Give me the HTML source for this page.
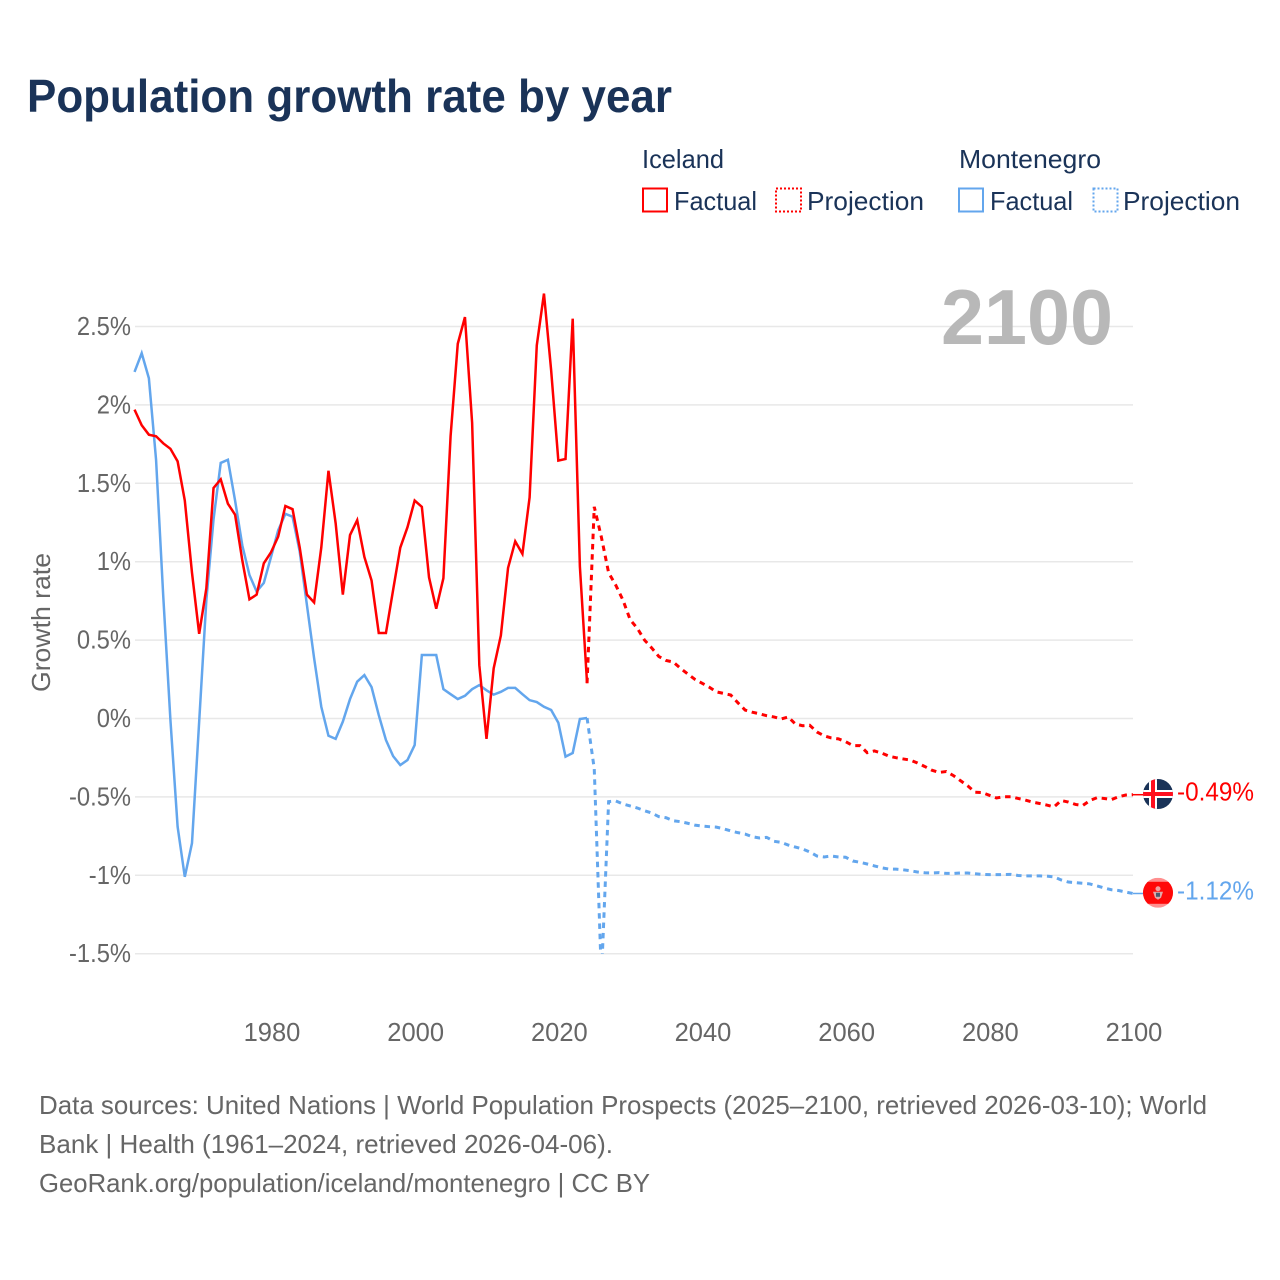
<!DOCTYPE html>
<html lang="en">
<head>
<meta charset="utf-8">
<title>Population growth rate by year</title>
<style>
  html, body { margin: 0; padding: 0; background: #fff; }
  svg { display: block; font-family: "Liberation Sans", sans-serif; }
</style>
</head>
<body>
<svg id="chart" width="1280" height="1280" viewBox="0 0 1280 1280" xmlns="http://www.w3.org/2000/svg">
  <defs>
    <clipPath id="plot-clip"><rect x="130" y="260" width="1010" height="694"></rect></clipPath>
    <clipPath id="flag-clip-is"><circle cx="0" cy="0" r="15"></circle></clipPath>
    <clipPath id="flag-clip-me"><circle cx="0" cy="0" r="15"></circle></clipPath>
  </defs>

  <text x="27" y="112" font-size="46" font-weight="700" fill="#1a3358" textLength="645" lengthAdjust="spacingAndGlyphs">Population growth rate by year</text>

  <g font-size="26" fill="#1a3358">
    <text x="642" y="168" textLength="82" lengthAdjust="spacingAndGlyphs">Iceland</text>
    <text x="959" y="168" textLength="142" lengthAdjust="spacingAndGlyphs">Montenegro</text>
    <g>
      <rect x="643" y="188.5" width="24" height="23" fill="none" stroke="#ff0000" stroke-width="2"></rect>
      <text x="674" y="210" textLength="83" lengthAdjust="spacingAndGlyphs">Factual</text>
    </g>
    <g>
      <rect x="776" y="188.5" width="25" height="23" fill="none" stroke="#ff0000" stroke-width="2" stroke-dasharray="2 2"></rect>
      <text x="807" y="210" textLength="117" lengthAdjust="spacingAndGlyphs">Projection</text>
    </g>
    <g>
      <rect x="959" y="188.5" width="24" height="23" fill="none" stroke="#63a6ed" stroke-width="2"></rect>
      <text x="990" y="210" textLength="83" lengthAdjust="spacingAndGlyphs">Factual</text>
    </g>
    <g>
      <rect x="1093.5" y="188.5" width="24" height="23" fill="none" stroke="#63a6ed" stroke-width="2" stroke-dasharray="2 2"></rect>
      <text x="1123" y="210" textLength="117" lengthAdjust="spacingAndGlyphs">Projection</text>
    </g>
  </g>

  <g id="grid"></g>
  <g id="y-ticks" font-size="25.5" fill="#666666" text-anchor="end"></g>
  <g id="x-ticks" font-size="25.5" fill="#666666" text-anchor="middle"></g>

  <text transform="translate(50 692) rotate(-90)" font-size="26" fill="#666666" textLength="139" lengthAdjust="spacingAndGlyphs">Growth rate</text>

  <text x="941" y="344" font-size="78" font-weight="700" fill="#b8b8b8" textLength="172" lengthAdjust="spacingAndGlyphs">2100</text>

  <g id="series" clip-path="url(#plot-clip)"></g>
  <g id="connectors"></g>

  <g id="flag-is">
    <g clip-path="url(#flag-clip-is)">
      <rect x="-15" y="-15" width="30" height="30" fill="#1a3358"></rect>
      <rect x="-9" y="-15" width="8" height="30" fill="#ffffff"></rect>
      <rect x="-15" y="-4" width="30" height="8" fill="#ffffff"></rect>
      <rect x="-7" y="-15" width="4" height="30" fill="#ff0f1f"></rect>
      <rect x="-15" y="-2" width="30" height="4" fill="#ff0f1f"></rect>
    </g>
  </g>
  <g id="flag-me">
    <g clip-path="url(#flag-clip-me)">
      <rect x="-15" y="-15" width="30" height="30" fill="#ff8f8f"></rect>
      <rect x="-15" y="-11" width="30" height="22" fill="#ff0808"></rect>
      <circle cx="0" cy="-4" r="2.5" fill="#f0a0a0"></circle>
      <path d="M-5 -1 L5 -1 L3 5 L0 7 L-3 5 Z" fill="#e0a8a8"></path>
      <rect x="-2" y="0" width="4" height="4" fill="#4a5a70"></rect>
    </g>
  </g>
  <text id="value-is" x="1177" font-size="26" fill="#ff0000" textLength="77" lengthAdjust="spacingAndGlyphs"></text>
  <text id="value-me" x="1177" font-size="26" fill="#63a6ed" textLength="77" lengthAdjust="spacingAndGlyphs"></text>

  <g font-size="26" fill="#666666">
    <text x="39" y="1114" textLength="1168" lengthAdjust="spacingAndGlyphs">Data sources: United Nations | World Population Prospects (2025–2100, retrieved 2026-03-10); World</text>
    <text x="39" y="1153" textLength="574" lengthAdjust="spacingAndGlyphs">Bank | Health (1961–2024, retrieved 2026-04-06).</text>
    <text x="39" y="1192" textLength="611" lengthAdjust="spacingAndGlyphs">GeoRank.org/population/iceland/montenegro | CC BY</text>
  </g>
</svg>

<script>
const yTickValues = [2.5, 2, 1.5, 1, 0.5, 0, -0.5, -1, -1.5];
const yTickLabels = ["2.5%", "2%", "1.5%", "1%", "0.5%", "0%", "-0.5%", "-1%", "-1.5%"];
const xTickYears = [1980, 2000, 2020, 2040, 2060, 2080, 2100];
const factualStartYear = 1961;
const projectionStartYear = 2024;

const icelandFactual = [1.97,1.87,1.81,1.80,1.755,1.72,1.64,1.39,0.93,0.54,0.83,1.47,1.525,1.37,1.30,1.01,0.76,0.79,0.99,1.06,
  1.16,1.355,1.335,1.09,0.79,0.74,1.09,1.58,1.245,0.79,1.17,1.265,1.03,0.88,0.545,0.545,0.82,1.09,1.22,1.39,
  1.35,0.90,0.70,0.895,1.80,2.39,2.56,1.885,0.34,-0.13,0.32,0.53,0.96,1.13,1.05,1.41,2.38,2.71,2.22,1.645,
  1.655,2.55,0.97,0.225];
const icelandProjection = [0.225,1.35,1.155,0.93,0.85,0.755,0.63,0.575,0.50,0.45,0.395,0.37,0.36,0.32,0.285,0.25,0.225,0.20,0.17,0.16,
  0.15,0.10,0.054,0.04,0.03,0.018,0.01,-0.003,0.01,-0.035,-0.046,-0.043,-0.086,-0.11,-0.124,-0.13,-0.148,-0.173,-0.173,-0.218,
  -0.207,-0.22,-0.24,-0.25,-0.258,-0.265,-0.284,-0.306,-0.33,-0.344,-0.338,-0.364,-0.397,-0.43,-0.47,-0.472,-0.49,-0.507,-0.499,-0.499,
  -0.51,-0.52,-0.533,-0.542,-0.552,-0.564,-0.523,-0.533,-0.548,-0.555,-0.523,-0.505,-0.51,-0.517,-0.499,-0.488,-0.486];
const montenegroFactual = [2.21,2.33,2.17,1.65,0.78,-0.01,-0.69,-1.01,-0.795,-0.02,0.755,1.27,1.63,1.65,1.39,1.105,0.915,0.81,0.865,1.03,
  1.20,1.305,1.287,1.064,0.724,0.385,0.075,-0.11,-0.13,-0.02,0.124,0.235,0.277,0.20,0.022,-0.137,-0.24,-0.297,-0.265,-0.169,
  0.405,0.405,0.405,0.187,0.155,0.124,0.145,0.187,0.213,0.18,0.152,0.17,0.195,0.195,0.155,0.117,0.105,0.075,0.054,-0.027,
  -0.243,-0.22,-0.003,0.003];
const montenegroProjection = [0.003,-0.32,-1.65,-0.53,-0.526,-0.545,-0.558,-0.571,-0.588,-0.603,-0.626,-0.633,-0.652,-0.658,-0.668,-0.68,-0.686,-0.69,-0.693,-0.703,
  -0.717,-0.728,-0.737,-0.754,-0.762,-0.758,-0.783,-0.79,-0.807,-0.82,-0.832,-0.851,-0.877,-0.883,-0.877,-0.883,-0.885,-0.909,-0.917,-0.928,
  -0.94,-0.952,-0.96,-0.961,-0.965,-0.971,-0.979,-0.984,-0.985,-0.983,-0.988,-0.988,-0.985,-0.985,-0.99,-0.994,-0.996,-0.996,-0.995,-0.994,
  -1.001,-1.004,-1.004,-1.004,-1.005,-1.01,-1.03,-1.043,-1.047,-1.051,-1.055,-1.068,-1.081,-1.092,-1.097,-1.107,-1.116];
const icelandEndLabel = "-0.49%";
const montenegroEndLabel = "-1.12%";

const SVG_NS = "http://www.w3.org/2000/svg";
const RED = "#ff0000";
const BLUE = "#63a6ed";

function xScale(year) { return 271 + (year - 1980) * (1133 - 271) / 120; }
function yScale(value) { return 718.5 - value * 156.8; }
function seriesPath(values, startYear) {
  return values.map(function (v, i) {
    return (i === 0 ? "M" : "L") + xScale(startYear + i).toFixed(2) + " " + yScale(v).toFixed(2);
  }).join(" ");
}

const gridGroup = document.getElementById("grid");
const yTickGroup = document.getElementById("y-ticks");
yTickValues.forEach(function (v, i) {
  const line = document.createElementNS(SVG_NS, "line");
  
  
  line.setAttribute("x1", 135);
  line.setAttribute("x2", 1133);
  line.setAttribute("y1", yScale(v));
  line.setAttribute("y2", yScale(v));
  line.setAttribute("stroke", "#e8e8e8");
  line.setAttribute("stroke-width", "1.5");
  gridGroup.appendChild(line);

  const label = document.createElementNS(SVG_NS, "text");
  
  
  label.setAttribute("x", 131);
  label.setAttribute("y", yScale(v) + 8.5);
  label.textContent = yTickLabels[i];
  yTickGroup.appendChild(label);
  label.setAttribute("textLength", (label.getComputedTextLength() * 0.93).toFixed(1));
  label.setAttribute("lengthAdjust", "spacingAndGlyphs");
});

const xTickGroup = document.getElementById("x-ticks");
xTickYears.forEach(function (year) {
  const label = document.createElementNS(SVG_NS, "text");
  
  
  label.setAttribute("x", xScale(year) + 1);
  label.setAttribute("y", 1041);
  label.textContent = String(year);
  xTickGroup.appendChild(label);
});

const seriesGroup = document.getElementById("series");
function addLine(name, values, startYear, color, dashed) {
  const path = document.createElementNS(SVG_NS, "path");
  
  
  path.setAttribute("d", seriesPath(values, startYear));
  path.setAttribute("fill", "none");
  path.setAttribute("stroke", color);
  path.setAttribute("stroke-width", dashed ? "3" : "2.5");
  path.setAttribute("stroke-linejoin", "miter");
  if (dashed) path.setAttribute("stroke-dasharray", "5.5 4.8");
  seriesGroup.appendChild(path);
}
addLine("montenegro-factual-line", montenegroFactual, factualStartYear, BLUE, false);
addLine("montenegro-projection-line", montenegroProjection, projectionStartYear, BLUE, true);
addLine("iceland-factual-line", icelandFactual, factualStartYear, RED, false);
addLine("iceland-projection-line", icelandProjection, projectionStartYear, RED, true);

const connectorGroup = document.getElementById("connectors");
function addEnd(connectorName, values, color, flagId, valueId, text) {
  const last = values[values.length - 1];
  const y = yScale(last);
  const conn = document.createElementNS(SVG_NS, "line");
  
  
  conn.setAttribute("x1", xScale(2100));
  conn.setAttribute("x2", 1143);
  conn.setAttribute("y1", y);
  conn.setAttribute("y2", y);
  conn.setAttribute("stroke", color);
  conn.setAttribute("stroke-width", "1.5");
  connectorGroup.appendChild(conn);
  document.getElementById(flagId).setAttribute("transform", "translate(1158 " + (y - 0.7).toFixed(2) + ")");
  const valueText = document.getElementById(valueId);
  valueText.setAttribute("y", (y + 6).toFixed(2));
  valueText.textContent = text;
}
addEnd("iceland-end-connector", icelandProjection, RED, "flag-is", "value-is", icelandEndLabel);
addEnd("montenegro-end-connector", montenegroProjection, BLUE, "flag-me", "value-me", montenegroEndLabel);
</script>
</body>
</html>
